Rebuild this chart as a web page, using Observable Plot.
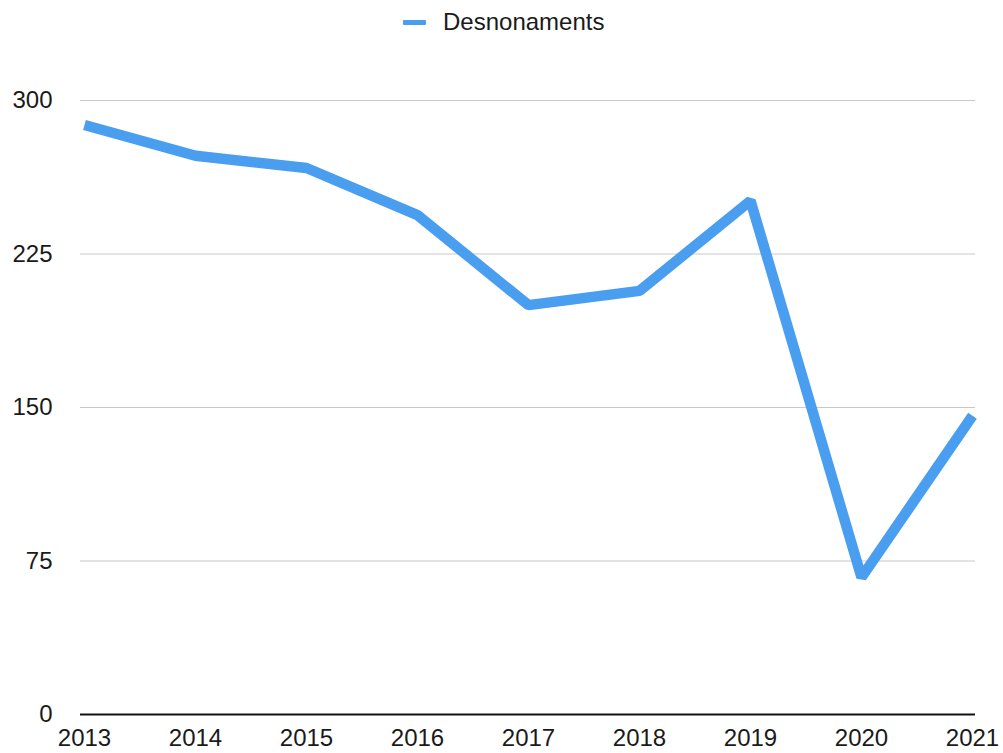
<!DOCTYPE html>
<html>
<head>
<meta charset="utf-8">
<script src="https://cdn.jsdelivr.net/npm/d3@7"></script>
<script src="https://cdn.jsdelivr.net/npm/@observablehq/plot@0.6"></script>
<style>
  html, body { margin: 0; padding: 0; background: #fff; }
  body { width: 1003px; height: 753px; overflow: hidden; font-family: "Liberation Sans", Arial, sans-serif; }
  #legend { height: 45px; position: relative; }
  #legend .sw { position: absolute; left: 403px; top: 20px; width: 23px; height: 5px; background: #4a9ef0; border-radius: 1px; }
  #legend .lb { position: absolute; left: 443px; top: 8px; font-size: 24px; color: #1a1a1a; }
</style>
</head>
<body>
<div id="legend"><div class="sw"></div><div class="lb">Desnonaments</div></div>
<div id="chart"></div>
<script>
const years = [2013, 2014, 2015, 2016, 2017, 2018, 2019, 2020, 2021];
const desnonaments = [288, 273, 267, 244, 200, 207, 251, 67, 146];
const yTicks = [0, 75, 150, 225, 300];
const seriesName = "Desnonaments";

const data = years.map((y, i) => ({year: y, value: desnonaments[i]}));

const chart = Plot.plot({
  width: 1003,
  height: 708,
  marginTop: 55,
  marginBottom: 39,
  marginLeft: 80,
  marginRight: 28,
  style: {fontFamily: "Liberation Sans, Arial, sans-serif", fontSize: "24px", color: "#1a1a1a", background: "white", overflow: "visible"},
  x: {type: "point", domain: years, padding: 0, label: null, tickSize: 0, tickPadding: 14, tickFormat: d => String(d)},
  y: {domain: [0, 300], ticks: yTicks, label: null, tickSize: 0, tickPadding: 28},
  marks: [
    Plot.gridY(yTicks.filter(d => d > 0), {stroke: "#c8c8c8", strokeOpacity: 1, strokeWidth: 1}),
    Plot.ruleY([0], {stroke: "#111", strokeWidth: 2}),
    Plot.line(data, {x: "year", y: "value", stroke: "#4a9ef0", strokeWidth: 10.5, strokeLinejoin: "miter", strokeLinecap: "butt"})
  ]
});
document.getElementById("chart").appendChild(chart);
</script>
</body>
</html>
